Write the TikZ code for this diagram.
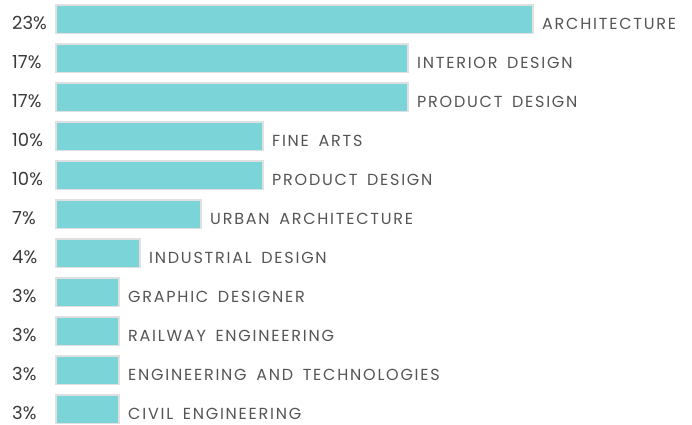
\documentclass[tikz,border=0pt]{standalone}
\usepackage{fontspec}
\setmainfont{Poppins}
\newfontfamily\lblfont[LetterSpace=11,WordSpace=1.6]{Poppins}
\definecolor{barc}{HTML}{7AD4D8}
\definecolor{pctc}{HTML}{3A3A3A}
\definecolor{lblc}{HTML}{555555}
\tikzset{
  barbox/.style={fill=barc, draw=black!12, line width=1.4pt},
  pct/.style={font=\fontsize{18}{20}\selectfont, text=pctc, inner sep=0pt, anchor=base west},
  lbl/.style={font=\lblfont\fontsize{16}{18}\selectfont, text=lblc, inner sep=0pt, anchor=base west}
}
\begin{document}
\begin{tikzpicture}[x=1pt,y=-1pt]
\useasboundingbox (0,0) rectangle (692,424);
\foreach \i/\r/\p/\t in {
  0/533/23\%/ARCHITECTURE,
  1/408/17\%/INTERIOR DESIGN,
  2/408/17\%/PRODUCT DESIGN,
  3/263/10\%/FINE ARTS,
  4/263/10\%/PRODUCT DESIGN,
  5/201/7\%/URBAN ARCHITECTURE,
  6/140/4\%/INDUSTRIAL DESIGN,
  7/119/3\%/GRAPHIC DESIGNER,
  8/119/3\%/RAILWAY ENGINEERING,
  9/119/3\%/ENGINEERING AND TECHNOLOGIES,
  10/119/3\%/CIVIL ENGINEERING}{
  \pgfmathsetmacro\tp{5+39*\i}
  \draw[barbox] (56,\tp) rectangle (\r,\tp+28.5);
  \node[pct] (p\i) at (12,\tp+24) {\p};
  \node[lbl] (l\i) at (\r+9,\tp+24) {\t};
}
\end{tikzpicture}
\end{document}
